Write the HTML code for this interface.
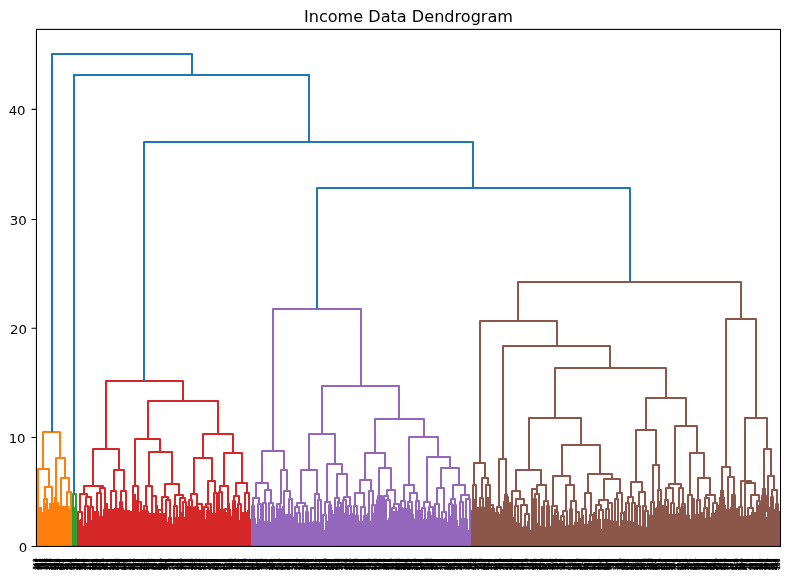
<!DOCTYPE html>
<html lang="en"><head><meta charset="utf-8"><title>Income Data Dendrogram</title>
<style>html,body{margin:0;padding:0;background:#fff}body{width:792px;height:578px;overflow:hidden}svg{display:block}text{font-family:"DejaVu Sans","Liberation Sans",sans-serif;fill:#000}</style></head><body>
<svg width="792" height="578" viewBox="0 0 792 578">
<rect width="792" height="578" fill="#fff"/>
<path d="M37 507H42V546.5H37ZM42 512H43V508H45V546.5H42ZM45 509H49V546.5H45ZM49 503H53V507H54V546.5H49ZM54 511H55V502H59V546.5H54ZM59 506H64V546.5H59ZM64 506H69V546.5H64ZM69 509H72V546.5H69ZM36 520H38V546.5H36ZM54 497h2v6h1v7h1v8h1v9H51v-9h1v-8h1v-7h1zM45 503h2v6h1v7h1v8h1v9H42v-9h1v-8h1v-7h1z" fill="#ff7f0e"/>
<path d="M72 507H75V546.5H72ZM75 507H77V546.5H75Z" fill="#2ca02c"/>
<path d="M77 520H80V546.5H77ZM80 519H83V526H84V546.5H80ZM84 520H86V523H87V546.5H84ZM87 519H89V546.5H87ZM89 520H92V546.5H89ZM92 517H94V546.5H92ZM94 511H99V516H100V546.5H94ZM100 508H102V516H103V546.5H100ZM103 509H108V546.5H103ZM108 509H114V546.5H108ZM114 508H119V546.5H114ZM119 508H121V546.5H119ZM121 508H124V546.5H121ZM124 510H130V546.5H124ZM130 511H135V521H136V546.5H130ZM136 512H140V546.5H136ZM140 512H142V546.5H140ZM142 510H146V546.5H142ZM146 511H149V546.5H146ZM149 513H155V546.5H149ZM155 512H157V546.5H155ZM157 513H159V546.5H157ZM159 513H165V546.5H159ZM165 515H167V522H168V546.5H165ZM168 517H172V546.5H168ZM172 524H173V517H175V546.5H172ZM175 517H179V546.5H175ZM179 516H181V546.5H179ZM181 512H184V517H185V546.5H181ZM185 507H187V546.5H185ZM187 506H191V546.5H187ZM191 507H194V546.5H191ZM194 510H196V546.5H194ZM196 517H197V510H201V546.5H196ZM201 509H203V546.5H201ZM203 510H205V519H206V546.5H203ZM206 510H210V546.5H206ZM210 513H212V546.5H210ZM212 513H216V546.5H212ZM216 514H218V546.5H216ZM218 512H220V546.5H218ZM220 509H224V546.5H220ZM224 512H227V546.5H224ZM227 517H228V512H231V546.5H227ZM231 518H232V508H234V546.5H231ZM234 508H237V546.5H234ZM237 510H239V546.5H237ZM239 520H240V512H242V546.5H239ZM242 512H247V546.5H242ZM247 510H250V519H251V546.5H247ZM134 494h2v6h1v7h1v8h1v9H131v-9h1v-8h1v-7h1zM196 502h2v6h1v7h1v8h1v9H193v-9h1v-8h1v-7h1zM106 503h2v6h1v7h1v8h1v9H103v-9h1v-8h1v-7h1zM156 505h2v6h1v7h1v8h1v9H153v-9h1v-8h1v-7h1zM228 503h2v6h1v7h1v8h1v9H225v-9h1v-8h1v-7h1z" fill="#d62728"/>
<path d="M251 518H253V546.5H251ZM253 518H256V546.5H253ZM256 524H257V519H260V546.5H256ZM260 518H262V546.5H260ZM262 519H264V546.5H262ZM264 521H268V546.5H264ZM268 522H271V546.5H268ZM271 520H273V546.5H271ZM273 518H276V546.5H273ZM276 517H278V546.5H276ZM278 519H280V546.5H278ZM280 518H283V546.5H280ZM283 514H287V546.5H283ZM287 514H291V546.5H287ZM291 517H294V546.5H291ZM294 520H296V546.5H294ZM296 523H299V546.5H296ZM299 516H301V546.5H299ZM301 523H305V546.5H301ZM305 521H307V546.5H305ZM307 522H310V546.5H307ZM310 522H313V546.5H310ZM313 521H317V546.5H313ZM317 522H320V546.5H317ZM320 519H322V546.5H320ZM322 520H324V530H325V546.5H322ZM325 521H328V546.5H325ZM328 521H330V546.5H328ZM330 510H333V546.5H330ZM333 514H337V546.5H333ZM337 512H340V546.5H337ZM340 513H342V546.5H340ZM342 513H345V546.5H342ZM345 508H347V546.5H345ZM347 515H350V546.5H347ZM350 513H353V546.5H350ZM353 514H355V546.5H353ZM355 515H359V521H360V546.5H355ZM360 516H362V521H363V546.5H360ZM363 515H367V546.5H363ZM367 513H370V521H371V546.5H367ZM371 513H374V546.5H371ZM374 513H376V546.5H374ZM376 513H378V546.5H376ZM378 513H381V546.5H378ZM381 512H383V546.5H381ZM383 513H385V546.5H383ZM385 511H387V520H388V546.5H385ZM388 518H389V510H391V546.5H388ZM391 511H394V546.5H391ZM394 511H398V546.5H394ZM398 509H400V546.5H398ZM400 507H403V546.5H400ZM403 508H407V546.5H403ZM407 505H410V546.5H407ZM410 509H413V514H414V546.5H410ZM414 519H415V512H417V546.5H414ZM417 514H421V546.5H417ZM421 516H423V546.5H421ZM423 519H427V546.5H423ZM427 516H429V546.5H427ZM429 515H432V546.5H429ZM432 515H434V546.5H432ZM434 517H437V546.5H434ZM437 518H441V546.5H437ZM441 519H444V546.5H441ZM444 518H447V522H448V546.5H444ZM448 516H451V546.5H448ZM451 518H453V546.5H451ZM453 517H455V546.5H453ZM455 518H457V521H458V546.5H455ZM458 526H459V516H461V546.5H458ZM461 518H465V546.5H461ZM465 519H468V546.5H465ZM468 530H469V521H471V546.5H468ZM337 501h2v6h1v7h1v8h1v9H334v-9h1v-8h1v-7h1zM379 497h2v6h1v7h1v8h1v9H376v-9h1v-8h1v-7h1zM418 504h2v6h1v7h1v8h1v9H415v-9h1v-8h1v-7h1zM454 507h2v6h1v7h1v8h1v9H451v-9h1v-8h1v-7h1zM282 506h2v6h1v7h1v8h1v9H279v-9h1v-8h1v-7h1z" fill="#9467bd"/>
<path d="M471 510H475V546.5H471ZM475 507H479V546.5H475ZM479 507H482V546.5H479ZM482 507H484V546.5H482ZM484 507H488V546.5H484ZM488 512H489V508H492V546.5H488ZM492 508H495V546.5H492ZM495 512H499V546.5H495ZM499 514H503V546.5H499ZM503 516H507V546.5H503ZM507 513H509V546.5H507ZM509 512H511V546.5H509ZM511 517H514V546.5H511ZM514 522H517V546.5H514ZM517 523H520V546.5H517ZM520 527H523V546.5H520ZM523 526H527V546.5H523ZM527 521H530V530H531V546.5H527ZM531 520H533V546.5H531ZM533 520H535V546.5H533ZM535 523H538V546.5H535ZM538 526H541V546.5H538ZM541 525H543V546.5H541ZM543 527H546V546.5H543ZM546 526H548V546.5H546ZM548 526H551V546.5H548ZM551 526H553V546.5H551ZM553 522H557V546.5H553ZM557 520H560V546.5H557ZM560 521H563V546.5H560ZM563 526H566V546.5H563ZM566 525H569V546.5H566ZM569 526H571V546.5H569ZM571 525H574V546.5H571ZM574 522H578V546.5H574ZM578 518H581V546.5H578ZM581 515H584V546.5H581ZM584 524H588V546.5H584ZM588 521H592V546.5H588ZM592 521H595V546.5H592ZM595 519H597V546.5H595ZM597 519H601V546.5H597ZM601 529H602V520H604V546.5H601ZM604 519H608V546.5H604ZM608 520H611V546.5H608ZM611 521H613V546.5H611ZM613 521H617V546.5H613ZM617 526H620V546.5H617ZM620 520H623V546.5H620ZM623 526H625V546.5H623ZM625 523H627V546.5H625ZM627 521H631V546.5H627ZM631 522H634V546.5H631ZM634 523H636V546.5H634ZM636 525H639V546.5H636ZM639 526H642V546.5H639ZM642 526H644V546.5H642ZM644 527H647V546.5H644ZM647 528H649V546.5H647ZM649 515H653V546.5H649ZM653 508H656V546.5H653ZM656 507H660V546.5H656ZM660 505H664V546.5H660ZM664 506H667V546.5H664ZM667 514H670V546.5H667ZM670 506H672V546.5H670ZM672 514H676V546.5H672ZM676 513H679V546.5H676ZM679 513H681V546.5H679ZM681 513H684V546.5H681ZM684 515H686V546.5H684ZM686 515H690V546.5H686ZM690 519H691V515H693V546.5H690ZM693 517H695V546.5H693ZM695 514H699V546.5H695ZM699 512H703V546.5H699ZM703 512H705V546.5H703ZM705 518H706V513H708V546.5H705ZM708 517H711V546.5H708ZM711 513H715V546.5H711ZM715 510H719V546.5H715ZM719 509H725V546.5H719ZM725 509H730V546.5H725ZM730 507H734V546.5H730ZM734 508H738V546.5H734ZM738 510H740V516H741V546.5H738ZM741 513H743V546.5H741ZM743 516H747V546.5H743ZM747 515H751V546.5H747ZM751 512H756V546.5H751ZM756 507H758V546.5H756ZM758 505H762V546.5H758ZM762 507H766V546.5H762ZM766 517H767V507H770V546.5H766ZM770 507H772V546.5H770ZM772 509H775V546.5H772ZM775 509H777V546.5H775ZM777 511H780V546.5H777ZM474 499h2v6h1v7h1v8h1v9H471v-9h1v-8h1v-7h1zM487 497h2v6h1v7h1v8h1v9H484v-9h1v-8h1v-7h1zM505 488h2v6h1v7h1v8h1v9H502v-9h1v-8h1v-7h1zM554 509h2v6h1v7h1v8h1v9H551v-9h1v-8h1v-7h1zM658 501h2v6h1v7h1v8h1v9H655v-9h1v-8h1v-7h1zM721 484h2v6h1v7h1v8h1v9H718v-9h1v-8h1v-7h1zM732 495h2v6h1v7h1v8h1v9H729v-9h1v-8h1v-7h1zM763 482h2v6h1v7h1v8h1v9H760v-9h1v-8h1v-7h1zM771 496h2v6h1v7h1v8h1v9H768v-9h1v-8h1v-7h1zM593 512h2v6h1v7h1v8h1v9H590v-9h1v-8h1v-7h1zM624 511h2v6h1v7h1v8h1v9H621v-9h1v-8h1v-7h1zM682 506h2v6h1v7h1v8h1v9H679v-9h1v-8h1v-7h1z" fill="#8c564b"/>
<path d="M43 469V432H60V458M38 507V469H49V487M45 499V487H52V503M56 502V458H65V478M61 506V478H69V492M67 506V492H71V509M38 507V507H39V507M44 508V499H47V509M45 499V499H46V499M51 503V503H52V503M66 506V506H67V506M70 509V509H71V509" fill="none" stroke="#ff7f0e" stroke-width="2" stroke-linejoin="round" stroke-linecap="butt"/>
<path d="M73 515V494H76V519" fill="none" stroke="#2ca02c" stroke-width="2" stroke-linejoin="round" stroke-linecap="butt"/>
<path d="M106 449V381H183V401M93 486V449H119V470M84 494V486H103V488M80 512V494H87V497M100 493V488H105V509M114 491V470H124V491M111 509V491H116V508M121 502V491H126V510M148 439V401H218V434M135 486V439H160V452M133 511V486H138V502M149 486V452H172V484M146 506V486H152V496M165 497V484H179V495M162 510V497H168V500M175 506V495H183V498M203 458V434H233V453M194 494V458H212V481M191 500V494H197V504M208 504V481H215V493M224 486V453H242V483M220 492V486H228V509M236 496V483H247V493M234 501V496H239V504M245 512V493H249V510M78 520V512H82V519M85 520V506H88V519M90 520V507H93V517M86 506V497H91V507M87 497V497H88V497M97 511V493H101V508M99 493V493H100V493M120 508V502H122V508M126 510V510H127V510M138 512V502H141V512M138 502V502H140V502M144 510V506H147V511M152 513V496H156V512M152 496V496H154V496M158 513V510H162V513M160 510V510H162V510M166 515V500H170V517M174 517V506H177V517M183 512V502H186V507M180 516V498H185V502M189 506V500H192V507M190 500V500H191V500M195 510V507H198V510M197 507V504H202V509M197 504V504H200V504M204 510V507H208V510M206 507V504H211V513M214 513V493H217V514M219 512V492H222V509M220 492V492H221V492M225 512V509H229V512M227 509V509H228V509M233 508V501H235V508M238 510V504H241V512M239 504V504H240V504M244 512V512H245V512" fill="none" stroke="#d62728" stroke-width="2" stroke-linejoin="round" stroke-linecap="butt"/>
<path d="M273 451V309H361V386M262 483V451H284V470M256 498V483H268V490M253 506V498H259V504M265 503V490H271V503M281 504V470H287V491M284 514V491H290V499M322 434V386H399V419M309 470V434H335V464M301 503V470H317V494M297 507V503H305V506M315 508V494H319V500M327 502V464H342V474M325 515V502H330V505M337 498V474H347V497M335 514V498H339V503M344 500V497H350V506M375 453V419H424V437M365 480V453H385V468M360 493V480H371V491M355 506V493H364V507M369 513V491H373V505M379 496V468H391V490M387 496V490H395V504M409 485V437H438V457M404 501V485H414V493M410 502V493H417V501M427 502V457H450V468M424 508V502H430V507M441 488V468H459V485M437 504V488H444V512M453 499V485H465V495M451 504V499H455V505M461 502V495H469V499M252 518V506H254V518M258 519V504H261V518M259 504V504H260V504M263 519V503H266V521M264 503V503H265V503M272 520V507H274V518M269 522V503H273V507M279 519V509H281V518M277 517V504H280V509M278 504V504H281V504M284 514V514H285V514M289 514V499H292V517M290 499V499H291V499M297 523V513H300V516M295 520V507H299V513M306 521V512H308V522M303 523V506H307V512M311 522V508H315V521M313 508V508H315V508M318 522V500H321V519M323 520V515H326V521M324 515V515H325V515M329 521V505H331V510M338 512V503H341V513M343 513V500H346V508M348 515V506H351V513M354 514V506H357V515M361 516V507H365V515M363 507V507H364V507M372 513V505H375V513M373 505V505H374V505M377 513V500H379V513M378 500V496H382V512M379 496V496H380V496M386 511V500H390V510M384 513V496H388V500M386 496V496H387V496M392 511V508H396V511M394 508V504H399V509M395 504V504H397V504M401 507V501H405V508M403 501V501H404V501M408 505V502H412V509M416 512V501H419V514M417 501V501H418V501M422 516V508H425V519M428 516V512H430V515M429 512V507H433V515M430 507V507H431V507M435 517V504H439V518M442 519V512H446V518M449 516V504H452V518M454 517V505H456V518M460 516V502H463V518M466 519V499H470V521M468 499V499H469V499" fill="none" stroke="#9467bd" stroke-width="2" stroke-linejoin="round" stroke-linecap="butt"/>
<path d="M518 321V282H741V319M480 463V321H557V346M474 485V463H485V478M473 510V485H476V507M482 498V478H488V485M486 507V485H490V505M503 459V346H610V368M499 507V459H506V497M555 418V368H666V398M529 470V418H581V445M516 491V470H541V485M512 503V491H520V499M516 506V499H524V505M537 489V485H546V501M544 507V501H548V506M562 476V445H600V474M553 506V476H570V485M566 511V485H574V501M571 509V501H576V512M588 493V474H612V479M585 509V493H591V515M604 500V479H620V493M599 505V500H608V503M617 499V493H622V513M646 430V398H686V426M636 482V430H656V465M631 497V482H642V492M628 503V497H633V503M639 506V492H645V506M653 502V465H659V490M658 507V490H661V505M675 484V426H697V453M669 488V484H681V488M666 500V488H673V503M679 508V488H683V504M690 495V453H704V478M688 515V495H692V499M698 500V478H710V495M697 514V500H700V512M706 498V495H715V503M726 467V319H756V418M722 509V467H730V477M728 509V477H734V495M732 507V495H735V508M745 481V418H767V449M741 507V481H751V483M745 516V483H755V495M751 508V495H759V501M748 515V508H753V512M764 507V449H771V476M768 507V476H774V490M772 497V490H777V504M476 507V507H477V507M480 507V498H483V507M490 508V505H493V508M490 505V505H492V505M497 512V507H501V514M505 516V497H508V513M510 512V503H512V517M511 503V503H512V503M515 522V506H518V523M525 526V514H529V521M521 527V505H527V514M534 520V499H536V523M535 499V494H539V526M532 520V489H537V494M534 489V489H537V489M542 525V507H544V527M543 507V507H544V507M547 526V506H549V526M555 522V512H558V520M552 526V506H557V512M553 506V506H554V506M561 521V516H564V526M563 516V511H567V525M565 511V511H566V511M570 526V509H572V525M576 522V512H579V518M576 512V512H577V512M582 515V509H586V524M584 509V509H585V509M590 521V515H593V521M591 515V515H592V515M599 519V510H603V520M596 519V505H601V510M606 519V509H609V520M608 509V503H612V521M608 503V503H610V503M615 521V499H618V526M616 499V499H617V499M621 520V513H624V526M622 513V513H623V513M626 523V503H629V521M632 522V503H635V523M633 503V503H634V503M637 525V506H640V526M645 527V511H648V528M643 526V506H646V511M644 506V506H645V506M651 515V502H654V508M661 505V505H662V505M665 506V500H668V514M666 500V500H667V500M671 506V503H674V514M672 503V503H673V503M677 513V508H680V513M678 508V508H679V508M682 513V504H685V515M683 504V504H684V504M692 515V499H694V517M692 499V499H693V499M700 512V512H701V512M704 512V508H707V513M705 508V498H709V517M706 498V498H707V498M713 513V503H717V510M727 509V509H728V509M735 508V508H736V508M739 510V507H742V513M748 515V515H749V515M757 507V501H760V505M771 507V497H773V509M776 509V504H778V511" fill="none" stroke="#8c564b" stroke-width="2" stroke-linejoin="round" stroke-linecap="butt"/>
<path d="M52 432V54H192V75M74 494V75H309V142M144 381V142H473V188M317 309V188H630V282" fill="none" stroke="#1f77b4" stroke-width="2" stroke-linejoin="round" stroke-linecap="butt"/>
<rect x="36.45" y="29.40" width="744.05" height="517.05" fill="none" stroke="#000" stroke-width="1.07"/>
<path d="M36.45 546.45h-4.9M36.45 437.45h-4.9M36.45 328.30h-4.9M36.45 219.45h-4.9M36.45 109.40h-4.9" stroke="#000" stroke-width="1.07" fill="none"/>
<text transform="translate(27.2 552.00) scale(1 0.92)" font-size="13.33" text-anchor="end">0</text>
<text transform="translate(25.6 443.00) scale(1 0.92)" font-size="13.33" text-anchor="end">10</text>
<text transform="translate(27.0 333.85) scale(1 0.92)" font-size="13.33" text-anchor="end">20</text>
<text transform="translate(26.7 225.00) scale(1 0.92)" font-size="13.33" text-anchor="end">30</text>
<text transform="translate(25.6 114.95) scale(1 0.92)" font-size="13.33" text-anchor="end">40</text>
<text x="408.5" y="22.2" font-size="16.1" text-anchor="middle">Income Data Dendrogram</text>
<g font-size="5.5" stroke="#000" stroke-width="0.35"><text transform="translate(37.25 569.4) rotate(-90)" x="0 3.1 7.4">343</text><text transform="translate(38.25 569.4) rotate(-90)" x="0 3.1 7.4">116</text><text transform="translate(39.25 569.7) rotate(-90)" x="0 3.1 7.4">397</text><text transform="translate(40.25 569.4) rotate(-90)" x="0 3.1 7.4">697</text><text transform="translate(41.25 569.7) rotate(-90)" x="0 3.3 7.4">312</text><text transform="translate(42.25 569.4) rotate(-90)" x="0 2.9 7.4">379</text><text transform="translate(43.25 569.7) rotate(-90)" x="0 2.9 7.4">730</text><text transform="translate(44.25 569.4) rotate(-90)" x="0 3.3 7.4">293</text><text transform="translate(45.25 569.7) rotate(-90)" x="0 3.5 7.4">162</text><text transform="translate(46.25 569.4) rotate(-90)" x="0 3.5 7.4">286</text><text transform="translate(47.25 569.4) rotate(-90)" x="0 3.3 7.4">152</text><text transform="translate(48.25 569.4) rotate(-90)" x="0 3.1 7.4">573</text><text transform="translate(49.25 569.4) rotate(-90)" x="0 3.3 7.4">678</text><text transform="translate(50.25 569.9) rotate(-90)" x="0 3.5 7.4">302</text><text transform="translate(51.25 569.4) rotate(-90)" x="3.3 7.4">28</text><text transform="translate(52.25 569.4) rotate(-90)" x="0 2.9 7.4">536</text><text transform="translate(53.25 569.7) rotate(-90)" x="0 3.5 7.4">398</text><text transform="translate(54.25 569.7) rotate(-90)" x="0 3.1 7.4">611</text><text transform="translate(55.25 569.9) rotate(-90)" x="0 3.1 7.4">715</text><text transform="translate(56.25 569.7) rotate(-90)" x="0 3.5 7.4">693</text><text transform="translate(57.25 569.9) rotate(-90)" x="0 2.9 7.4">461</text><text transform="translate(58.25 569.4) rotate(-90)" x="0 3.5 7.4">281</text><text transform="translate(59.25 569.4) rotate(-90)" x="0 3.5 7.4">138</text><text transform="translate(60.25 569.7) rotate(-90)" x="0 3.3 7.4">586</text><text transform="translate(61.25 569.7) rotate(-90)" x="0 3.5 7.4">277</text><text transform="translate(62.25 569.9) rotate(-90)" x="0 3.3 7.4">469</text><text transform="translate(63.25 569.9) rotate(-90)" x="0 3.3 7.4">403</text><text transform="translate(64.25 569.7) rotate(-90)" x="0 2.9 7.4">659</text><text transform="translate(65.25 569.7) rotate(-90)" x="0 3.1 7.4">640</text><text transform="translate(66.25 569.9) rotate(-90)" x="0 3.1 7.4">719</text><text transform="translate(67.25 569.7) rotate(-90)" x="0 2.9 7.4">110</text><text transform="translate(68.25 569.7) rotate(-90)" x="0 2.9 7.4">295</text><text transform="translate(69.25 569.7) rotate(-90)" x="0 2.9 7.4">497</text><text transform="translate(70.25 569.7) rotate(-90)" x="0 3.5 7.4">242</text><text transform="translate(71.25 569.7) rotate(-90)" x="0 2.9 7.4">380</text><text transform="translate(72.25 569.9) rotate(-90)" x="3.1 7.4">78</text><text transform="translate(73.25 569.9) rotate(-90)" x="0 3.5 7.4">440</text><text transform="translate(74.25 569.4) rotate(-90)" x="0 2.9 7.4">204</text><text transform="translate(75.25 569.7) rotate(-90)" x="0 2.9 7.4">516</text><text transform="translate(76.25 569.4) rotate(-90)" x="3.3 7.4">91</text><text transform="translate(77.25 569.7) rotate(-90)" x="0 2.9 7.4">251</text><text transform="translate(78.25 569.4) rotate(-90)" x="0 2.9 7.4">210</text><text transform="translate(79.25 569.7) rotate(-90)" x="0 3.5 7.4">424</text><text transform="translate(80.25 569.7) rotate(-90)" x="0 2.9 7.4">533</text><text transform="translate(81.25 569.7) rotate(-90)" x="0 2.9 7.4">475</text><text transform="translate(82.25 569.7) rotate(-90)" x="0 3.3 7.4">648</text><text transform="translate(83.25 569.4) rotate(-90)" x="0 2.9 7.4">377</text><text transform="translate(84.25 569.4) rotate(-90)" x="0 3.3 7.4">314</text><text transform="translate(85.25 569.7) rotate(-90)" x="0 3.5 7.4">236</text><text transform="translate(86.25 569.4) rotate(-90)" x="0 3.5 7.4">305</text><text transform="translate(87.25 569.7) rotate(-90)" x="0 3.1 7.4">489</text><text transform="translate(88.25 569.7) rotate(-90)" x="0 3.5 7.4">370</text><text transform="translate(89.25 569.7) rotate(-90)" x="0 3.3 7.4">179</text><text transform="translate(90.25 569.7) rotate(-90)" x="2.9 7.4">51</text><text transform="translate(91.25 569.7) rotate(-90)" x="0 3.5 7.4">127</text><text transform="translate(92.25 569.7) rotate(-90)" x="0 3.5 7.4">442</text><text transform="translate(93.25 569.9) rotate(-90)" x="0 3.3 7.4">223</text><text transform="translate(94.25 569.9) rotate(-90)" x="0 3.3 7.4">344</text><text transform="translate(95.25 569.7) rotate(-90)" x="0 3.5 7.4">464</text><text transform="translate(96.25 569.7) rotate(-90)" x="0 2.9 7.4">284</text><text transform="translate(97.25 569.7) rotate(-90)" x="0 3.3 7.4">650</text><text transform="translate(98.25 569.9) rotate(-90)" x="0 3.1 7.4">334</text><text transform="translate(99.25 569.4) rotate(-90)" x="0 3.5 7.4">269</text><text transform="translate(100.25 569.7) rotate(-90)" x="0 3.3 7.4">135</text><text transform="translate(101.25 569.7) rotate(-90)" x="0 3.1 7.4">642</text><text transform="translate(102.25 569.9) rotate(-90)" x="0 3.3 7.4">610</text><text transform="translate(103.25 569.7) rotate(-90)" x="0 3.3 7.4">136</text><text transform="translate(104.25 569.7) rotate(-90)" x="0 3.1 7.4">225</text><text transform="translate(105.25 569.4) rotate(-90)" x="0 2.9 7.4">390</text><text transform="translate(106.25 569.4) rotate(-90)" x="0 3.1 7.4">677</text><text transform="translate(107.25 569.9) rotate(-90)" x="0 3.3 7.4">463</text><text transform="translate(108.25 569.9) rotate(-90)" x="0 2.9 7.4">541</text><text transform="translate(109.25 569.7) rotate(-90)" x="0 3.5 7.4">393</text><text transform="translate(110.25 569.7) rotate(-90)" x="0 2.9 7.4">275</text><text transform="translate(111.26 569.9) rotate(-90)" x="0 3.1 7.4">113</text><text transform="translate(112.26 569.7) rotate(-90)" x="0 3.3 7.4">457</text><text transform="translate(113.26 569.7) rotate(-90)" x="0 3.1 7.4">157</text><text transform="translate(114.26 569.4) rotate(-90)" x="0 3.3 7.4">297</text><text transform="translate(115.26 569.7) rotate(-90)" x="0 3.5 7.4">680</text><text transform="translate(116.26 569.9) rotate(-90)" x="0 3.1 7.4">563</text><text transform="translate(117.26 569.4) rotate(-90)" x="0 2.9 7.4">705</text><text transform="translate(118.26 569.4) rotate(-90)" x="0 3.5 7.4">298</text><text transform="translate(119.26 569.9) rotate(-90)" x="0 3.5 7.4">688</text><text transform="translate(120.26 569.9) rotate(-90)" x="3.1 7.4">88</text><text transform="translate(121.26 569.4) rotate(-90)" x="0 3.3 7.4">268</text><text transform="translate(122.26 569.9) rotate(-90)" x="0 3.5 7.4">169</text><text transform="translate(123.26 569.7) rotate(-90)" x="0 3.5 7.4">174</text><text transform="translate(124.26 569.7) rotate(-90)" x="3.3 7.4">64</text><text transform="translate(125.26 569.9) rotate(-90)" x="0 3.3 7.4">634</text><text transform="translate(126.26 569.7) rotate(-90)" x="0 3.5 7.4">448</text><text transform="translate(127.26 569.9) rotate(-90)" x="0 2.9 7.4">400</text><text transform="translate(128.26 569.9) rotate(-90)" x="3.5 7.4">18</text><text transform="translate(129.26 569.7) rotate(-90)" x="0 3.3 7.4">175</text><text transform="translate(130.26 569.7) rotate(-90)" x="0 3.3 7.4">336</text><text transform="translate(131.26 569.9) rotate(-90)" x="0 3.5 7.4">118</text><text transform="translate(132.26 569.4) rotate(-90)" x="0 3.1 7.4">676</text><text transform="translate(133.26 569.7) rotate(-90)" x="0 3.3 7.4">555</text><text transform="translate(134.26 569.7) rotate(-90)" x="0 3.1 7.4">247</text><text transform="translate(135.26 569.9) rotate(-90)" x="0 3.1 7.4">644</text><text transform="translate(136.26 569.4) rotate(-90)" x="0 2.9 7.4">500</text><text transform="translate(137.26 569.7) rotate(-90)" x="0 2.9 7.4">234</text><text transform="translate(138.26 569.7) rotate(-90)" x="0 3.5 7.4">233</text><text transform="translate(139.26 569.9) rotate(-90)" x="3.3 7.4">33</text><text transform="translate(140.26 569.9) rotate(-90)" x="3.5 7.4">55</text><text transform="translate(141.26 569.7) rotate(-90)" x="0 3.5 7.4">260</text><text transform="translate(142.26 569.7) rotate(-90)" x="0 2.9 7.4">540</text><text transform="translate(143.26 569.4) rotate(-90)" x="0 3.5 7.4">282</text><text transform="translate(144.26 569.7) rotate(-90)" x="0 2.9 7.4">359</text><text transform="translate(145.26 569.9) rotate(-90)" x="0 2.9 7.4">739</text><text transform="translate(146.26 569.9) rotate(-90)" x="0 3.3 7.4">434</text><text transform="translate(147.26 569.7) rotate(-90)" x="0 3.1 7.4">106</text><text transform="translate(148.26 569.9) rotate(-90)" x="0 3.5 7.4">427</text><text transform="translate(149.26 569.9) rotate(-90)" x="0 3.5 7.4">599</text><text transform="translate(150.26 569.4) rotate(-90)" x="0 3.3 7.4">606</text><text transform="translate(151.26 569.7) rotate(-90)" x="0 3.1 7.4">718</text><text transform="translate(152.26 569.7) rotate(-90)" x="0 3.3 7.4">245</text><text transform="translate(153.26 569.7) rotate(-90)" x="0 2.9 7.4">160</text><text transform="translate(154.26 569.4) rotate(-90)" x="0 3.1 7.4">549</text><text transform="translate(155.26 569.7) rotate(-90)" x="0 3.3 7.4">471</text><text transform="translate(156.26 569.7) rotate(-90)" x="0 3.5 7.4">386</text><text transform="translate(157.26 569.7) rotate(-90)" x="0 3.3 7.4">629</text><text transform="translate(158.26 569.9) rotate(-90)" x="0 3.1 7.4">347</text><text transform="translate(159.26 569.4) rotate(-90)" x="0 3.1 7.4">172</text><text transform="translate(160.26 569.7) rotate(-90)" x="0 2.9 7.4">263</text><text transform="translate(161.26 569.9) rotate(-90)" x="0 2.9 7.4">651</text><text transform="translate(162.26 569.4) rotate(-90)" x="0 2.9 7.4">166</text><text transform="translate(163.26 569.4) rotate(-90)" x="0 3.3 7.4">460</text><text transform="translate(164.26 569.9) rotate(-90)" x="0 3.3 7.4">723</text><text transform="translate(165.26 569.4) rotate(-90)" x="0 2.9 7.4">205</text><text transform="translate(166.26 569.7) rotate(-90)" x="0 2.9 7.4">456</text><text transform="translate(167.26 569.9) rotate(-90)" x="0 3.1 7.4">384</text><text transform="translate(168.26 569.7) rotate(-90)" x="0 3.3 7.4">508</text><text transform="translate(169.26 569.9) rotate(-90)" x="3.1 7.4">69</text><text transform="translate(170.26 569.7) rotate(-90)" x="0 2.9 7.4">507</text><text transform="translate(171.26 569.4) rotate(-90)" x="3.1 7.4">39</text><text transform="translate(172.26 569.4) rotate(-90)" x="2.9 7.4">63</text><text transform="translate(173.26 569.7) rotate(-90)" x="0 2.9 7.4">317</text><text transform="translate(174.26 569.9) rotate(-90)" x="0 3.5 7.4">107</text><text transform="translate(175.26 569.4) rotate(-90)" x="3.5 7.4">68</text><text transform="translate(176.26 569.7) rotate(-90)" x="2.9 7.4">38</text><text transform="translate(177.26 569.7) rotate(-90)" x="0 3.1 7.4">279</text><text transform="translate(178.26 569.7) rotate(-90)" x="0 3.3 7.4">325</text><text transform="translate(179.26 569.4) rotate(-90)" x="0 3.1 7.4">544</text><text transform="translate(180.26 569.4) rotate(-90)" x="0 3.3 7.4">155</text><text transform="translate(181.26 569.7) rotate(-90)" x="0 2.9 7.4">221</text><text transform="translate(182.26 569.9) rotate(-90)" x="0 3.1 7.4">313</text><text transform="translate(183.26 569.4) rotate(-90)" x="0 3.5 7.4">200</text><text transform="translate(184.26 569.7) rotate(-90)" x="0 2.9 7.4">395</text><text transform="translate(185.26 569.4) rotate(-90)" x="0 3.5 7.4">387</text><text transform="translate(186.26 569.4) rotate(-90)" x="3.5 7.4">93</text><text transform="translate(187.26 569.7) rotate(-90)" x="0 3.1 7.4">451</text><text transform="translate(188.26 569.4) rotate(-90)" x="0 3.1 7.4">122</text><text transform="translate(189.26 569.7) rotate(-90)" x="0 3.1 7.4">227</text><text transform="translate(190.26 569.4) rotate(-90)" x="0 3.3 7.4">182</text><text transform="translate(191.26 569.7) rotate(-90)" x="3.5 7.4">86</text><text transform="translate(192.26 569.7) rotate(-90)" x="0 3.5 7.4">115</text><text transform="translate(193.26 569.4) rotate(-90)" x="0 3.5 7.4">226</text><text transform="translate(194.26 569.9) rotate(-90)" x="0 3.1 7.4">407</text><text transform="translate(195.26 569.9) rotate(-90)" x="0 3.1 7.4">389</text><text transform="translate(196.26 569.9) rotate(-90)" x="3.3 7.4">24</text><text transform="translate(197.26 569.4) rotate(-90)" x="0 3.5 7.4">626</text><text transform="translate(198.26 569.4) rotate(-90)" x="3.1 7.4">35</text><text transform="translate(199.26 569.7) rotate(-90)" x="0 3.1 7.4">331</text><text transform="translate(200.26 569.9) rotate(-90)" x="0 3.3 7.4">733</text><text transform="translate(201.26 569.4) rotate(-90)" x="0 3.1 7.4">556</text><text transform="translate(202.26 569.9) rotate(-90)" x="0 3.3 7.4">641</text><text transform="translate(203.26 569.4) rotate(-90)" x="0 3.3 7.4">262</text><text transform="translate(204.26 569.9) rotate(-90)" x="0 3.3 7.4">212</text><text transform="translate(205.26 569.9) rotate(-90)" x="0 3.3 7.4">261</text><text transform="translate(206.26 569.4) rotate(-90)" x="0 2.9 7.4">562</text><text transform="translate(207.26 569.7) rotate(-90)" x="7.4">3</text><text transform="translate(208.26 569.9) rotate(-90)" x="3.1 7.4">36</text><text transform="translate(209.26 569.9) rotate(-90)" x="0 3.1 7.4">736</text><text transform="translate(210.26 569.7) rotate(-90)" x="0 3.3 7.4">186</text><text transform="translate(211.26 569.9) rotate(-90)" x="0 3.1 7.4">455</text><text transform="translate(212.26 569.7) rotate(-90)" x="2.9 7.4">97</text><text transform="translate(213.26 569.7) rotate(-90)" x="0 2.9 7.4">545</text><text transform="translate(214.26 569.7) rotate(-90)" x="0 3.1 7.4">319</text><text transform="translate(215.26 569.4) rotate(-90)" x="0 3.1 7.4">435</text><text transform="translate(216.26 569.7) rotate(-90)" x="3.1 7.4">99</text><text transform="translate(217.26 569.9) rotate(-90)" x="0 3.1 7.4">459</text><text transform="translate(218.26 569.7) rotate(-90)" x="0 3.5 7.4">609</text><text transform="translate(219.26 569.7) rotate(-90)" x="3.1 7.4">82</text><text transform="translate(220.26 569.7) rotate(-90)" x="0 3.3 7.4">542</text><text transform="translate(221.26 569.9) rotate(-90)" x="0 3.5 7.4">701</text><text transform="translate(222.26 569.7) rotate(-90)" x="0 3.1 7.4">167</text><text transform="translate(223.26 569.7) rotate(-90)" x="0 3.5 7.4">112</text><text transform="translate(224.26 569.9) rotate(-90)" x="0 3.1 7.4">151</text><text transform="translate(225.26 569.7) rotate(-90)" x="0 3.1 7.4">418</text><text transform="translate(226.26 569.7) rotate(-90)" x="0 3.5 7.4">416</text><text transform="translate(227.26 569.9) rotate(-90)" x="0 3.1 7.4">658</text><text transform="translate(228.26 569.7) rotate(-90)" x="0 3.1 7.4">532</text><text transform="translate(229.26 569.4) rotate(-90)" x="7.4">1</text><text transform="translate(230.26 569.9) rotate(-90)" x="0 3.3 7.4">193</text><text transform="translate(231.26 569.7) rotate(-90)" x="0 2.9 7.4">608</text><text transform="translate(232.26 569.4) rotate(-90)" x="0 3.3 7.4">513</text><text transform="translate(233.26 569.4) rotate(-90)" x="0 3.5 7.4">584</text><text transform="translate(234.26 569.7) rotate(-90)" x="3.1 7.4">14</text><text transform="translate(235.26 569.7) rotate(-90)" x="0 3.3 7.4">123</text><text transform="translate(236.26 569.4) rotate(-90)" x="0 2.9 7.4">724</text><text transform="translate(237.26 569.7) rotate(-90)" x="0 3.3 7.4">165</text><text transform="translate(238.26 569.4) rotate(-90)" x="0 3.1 7.4">189</text><text transform="translate(239.26 569.4) rotate(-90)" x="0 3.3 7.4">352</text><text transform="translate(240.26 569.7) rotate(-90)" x="0 3.1 7.4">131</text><text transform="translate(241.26 569.9) rotate(-90)" x="0 3.1 7.4">201</text><text transform="translate(242.26 569.7) rotate(-90)" x="0 3.3 7.4">443</text><text transform="translate(243.26 569.9) rotate(-90)" x="3.5 7.4">12</text><text transform="translate(244.26 569.7) rotate(-90)" x="0 3.1 7.4">664</text><text transform="translate(245.26 569.4) rotate(-90)" x="0 3.1 7.4">585</text><text transform="translate(246.26 569.7) rotate(-90)" x="0 3.3 7.4">663</text><text transform="translate(247.26 569.4) rotate(-90)" x="3.5 7.4">90</text><text transform="translate(248.26 569.7) rotate(-90)" x="0 3.5 7.4">557</text><text transform="translate(249.26 569.7) rotate(-90)" x="0 3.5 7.4">437</text><text transform="translate(250.26 569.7) rotate(-90)" x="0 2.9 7.4">417</text><text transform="translate(251.26 569.4) rotate(-90)" x="3.3 7.4">56</text><text transform="translate(252.26 569.7) rotate(-90)" x="0 3.3 7.4">582</text><text transform="translate(253.26 569.9) rotate(-90)" x="0 2.9 7.4">525</text><text transform="translate(254.26 569.7) rotate(-90)" x="0 2.9 7.4">246</text><text transform="translate(255.26 569.7) rotate(-90)" x="0 3.5 7.4">698</text><text transform="translate(256.26 569.7) rotate(-90)" x="0 3.3 7.4">519</text><text transform="translate(257.26 569.4) rotate(-90)" x="0 3.5 7.4">114</text><text transform="translate(258.26 569.7) rotate(-90)" x="0 3.3 7.4">253</text><text transform="translate(259.26 569.9) rotate(-90)" x="0 3.1 7.4">100</text><text transform="translate(260.27 569.9) rotate(-90)" x="0 3.3 7.4">612</text><text transform="translate(261.27 569.4) rotate(-90)" x="0 3.3 7.4">625</text><text transform="translate(262.27 569.7) rotate(-90)" x="0 2.9 7.4">327</text><text transform="translate(263.27 569.4) rotate(-90)" x="0 2.9 7.4">315</text><text transform="translate(264.27 569.4) rotate(-90)" x="0 3.1 7.4">569</text><text transform="translate(265.27 569.7) rotate(-90)" x="0 2.9 7.4">144</text><text transform="translate(266.27 569.7) rotate(-90)" x="3.1 7.4">81</text><text transform="translate(267.27 569.9) rotate(-90)" x="2.9 7.4">65</text><text transform="translate(268.27 569.7) rotate(-90)" x="3.5 7.4">23</text><text transform="translate(269.27 569.4) rotate(-90)" x="0 3.3 7.4">357</text><text transform="translate(270.27 569.9) rotate(-90)" x="0 3.3 7.4">392</text><text transform="translate(271.27 569.7) rotate(-90)" x="0 3.5 7.4">101</text><text transform="translate(272.27 569.4) rotate(-90)" x="0 3.5 7.4">492</text><text transform="translate(273.27 569.9) rotate(-90)" x="0 3.1 7.4">153</text><text transform="translate(274.27 569.9) rotate(-90)" x="0 3.1 7.4">490</text><text transform="translate(275.27 569.4) rotate(-90)" x="0 3.1 7.4">531</text><text transform="translate(276.27 569.7) rotate(-90)" x="0 3.3 7.4">703</text><text transform="translate(277.27 569.7) rotate(-90)" x="0 3.1 7.4">232</text><text transform="translate(278.27 569.7) rotate(-90)" x="0 3.3 7.4">627</text><text transform="translate(279.27 569.7) rotate(-90)" x="0 2.9 7.4">433</text><text transform="translate(280.27 569.7) rotate(-90)" x="0 3.3 7.4">117</text><text transform="translate(281.27 569.4) rotate(-90)" x="0 3.5 7.4">180</text><text transform="translate(282.27 569.7) rotate(-90)" x="0 3.1 7.4">222</text><text transform="translate(283.27 569.7) rotate(-90)" x="0 3.1 7.4">574</text><text transform="translate(284.27 569.9) rotate(-90)" x="0 3.5 7.4">607</text><text transform="translate(285.27 569.7) rotate(-90)" x="7.4">8</text><text transform="translate(286.27 569.9) rotate(-90)" x="0 2.9 7.4">713</text><text transform="translate(287.27 569.7) rotate(-90)" x="0 3.1 7.4">685</text><text transform="translate(288.27 569.7) rotate(-90)" x="0 3.3 7.4">339</text><text transform="translate(289.27 569.7) rotate(-90)" x="0 3.1 7.4">465</text><text transform="translate(290.27 569.4) rotate(-90)" x="0 3.3 7.4">692</text><text transform="translate(291.27 569.7) rotate(-90)" x="0 3.5 7.4">483</text><text transform="translate(292.27 569.9) rotate(-90)" x="0 3.1 7.4">727</text><text transform="translate(293.27 569.7) rotate(-90)" x="0 3.5 7.4">173</text><text transform="translate(294.27 569.7) rotate(-90)" x="2.9 7.4">19</text><text transform="translate(295.27 569.7) rotate(-90)" x="0 2.9 7.4">502</text><text transform="translate(296.27 569.7) rotate(-90)" x="3.5 7.4">67</text><text transform="translate(297.27 569.4) rotate(-90)" x="0 2.9 7.4">472</text><text transform="translate(298.27 569.7) rotate(-90)" x="3.3 7.4">49</text><text transform="translate(299.27 569.4) rotate(-90)" x="0 3.1 7.4">614</text><text transform="translate(300.27 569.9) rotate(-90)" x="0 3.3 7.4">272</text><text transform="translate(301.27 569.7) rotate(-90)" x="0 2.9 7.4">133</text><text transform="translate(302.27 569.9) rotate(-90)" x="0 3.3 7.4">109</text><text transform="translate(303.27 569.7) rotate(-90)" x="0 3.5 7.4">326</text><text transform="translate(304.27 569.7) rotate(-90)" x="0 3.3 7.4">104</text><text transform="translate(305.27 569.4) rotate(-90)" x="0 2.9 7.4">668</text><text transform="translate(306.27 569.9) rotate(-90)" x="2.9 7.4">48</text><text transform="translate(307.27 569.4) rotate(-90)" x="0 3.5 7.4">661</text><text transform="translate(308.27 569.7) rotate(-90)" x="0 3.3 7.4">265</text><text transform="translate(309.27 569.9) rotate(-90)" x="0 2.9 7.4">581</text><text transform="translate(310.27 569.9) rotate(-90)" x="0 3.5 7.4">176</text><text transform="translate(311.27 569.7) rotate(-90)" x="0 3.1 7.4">709</text><text transform="translate(312.27 569.7) rotate(-90)" x="0 2.9 7.4">716</text><text transform="translate(313.27 569.7) rotate(-90)" x="0 2.9 7.4">631</text><text transform="translate(314.27 569.7) rotate(-90)" x="0 3.3 7.4">535</text><text transform="translate(315.27 569.7) rotate(-90)" x="0 2.9 7.4">237</text><text transform="translate(316.27 569.4) rotate(-90)" x="0 2.9 7.4">632</text><text transform="translate(317.27 569.7) rotate(-90)" x="3.5 7.4">54</text><text transform="translate(318.27 569.7) rotate(-90)" x="0 3.3 7.4">191</text><text transform="translate(319.27 569.7) rotate(-90)" x="0 3.1 7.4">598</text><text transform="translate(320.27 569.7) rotate(-90)" x="2.9 7.4">22</text><text transform="translate(321.27 569.9) rotate(-90)" x="0 3.3 7.4">684</text><text transform="translate(322.27 569.7) rotate(-90)" x="0 3.1 7.4">712</text><text transform="translate(323.27 569.7) rotate(-90)" x="0 3.3 7.4">264</text><text transform="translate(324.27 569.7) rotate(-90)" x="0 3.3 7.4">206</text><text transform="translate(325.27 569.7) rotate(-90)" x="0 3.3 7.4">183</text><text transform="translate(326.27 569.4) rotate(-90)" x="0 3.1 7.4">288</text><text transform="translate(327.27 569.4) rotate(-90)" x="0 2.9 7.4">710</text><text transform="translate(328.27 569.4) rotate(-90)" x="0 3.5 7.4">148</text><text transform="translate(329.27 569.9) rotate(-90)" x="0 3.1 7.4">623</text><text transform="translate(330.27 569.9) rotate(-90)" x="0 3.5 7.4">527</text><text transform="translate(331.27 569.7) rotate(-90)" x="3.1 7.4">98</text><text transform="translate(332.27 569.7) rotate(-90)" x="0 2.9 7.4">453</text><text transform="translate(333.27 569.7) rotate(-90)" x="0 3.1 7.4">566</text><text transform="translate(334.27 569.9) rotate(-90)" x="0 3.1 7.4">511</text><text transform="translate(335.27 569.4) rotate(-90)" x="0 3.5 7.4">671</text><text transform="translate(336.27 569.9) rotate(-90)" x="0 2.9 7.4">376</text><text transform="translate(337.27 569.7) rotate(-90)" x="0 3.5 7.4">345</text><text transform="translate(338.27 569.7) rotate(-90)" x="0 3.1 7.4">481</text><text transform="translate(339.27 569.4) rotate(-90)" x="0 2.9 7.4">498</text><text transform="translate(340.27 569.7) rotate(-90)" x="0 3.5 7.4">266</text><text transform="translate(341.27 569.4) rotate(-90)" x="0 3.3 7.4">737</text><text transform="translate(342.27 569.9) rotate(-90)" x="0 2.9 7.4">203</text><text transform="translate(343.27 569.4) rotate(-90)" x="0 3.3 7.4">323</text><text transform="translate(344.27 569.4) rotate(-90)" x="3.5 7.4">32</text><text transform="translate(345.27 569.7) rotate(-90)" x="0 3.1 7.4">181</text><text transform="translate(346.27 569.7) rotate(-90)" x="0 3.5 7.4">274</text><text transform="translate(347.27 569.9) rotate(-90)" x="2.9 7.4">44</text><text transform="translate(348.27 569.7) rotate(-90)" x="0 3.3 7.4">488</text><text transform="translate(349.27 569.4) rotate(-90)" x="0 3.5 7.4">550</text><text transform="translate(350.27 569.9) rotate(-90)" x="0 3.3 7.4">523</text><text transform="translate(351.27 569.7) rotate(-90)" x="0 3.5 7.4">447</text><text transform="translate(352.27 569.4) rotate(-90)" x="0 3.5 7.4">340</text><text transform="translate(353.27 569.7) rotate(-90)" x="0 2.9 7.4">411</text><text transform="translate(354.27 569.9) rotate(-90)" x="0 3.3 7.4">105</text><text transform="translate(355.27 569.9) rotate(-90)" x="0 3.3 7.4">238</text><text transform="translate(356.27 569.7) rotate(-90)" x="0 3.1 7.4">619</text><text transform="translate(357.27 569.4) rotate(-90)" x="0 3.3 7.4">580</text><text transform="translate(358.27 569.7) rotate(-90)" x="0 3.1 7.4">362</text><text transform="translate(359.27 569.4) rotate(-90)" x="0 3.5 7.4">358</text><text transform="translate(360.27 569.7) rotate(-90)" x="0 3.1 7.4">564</text><text transform="translate(361.27 569.7) rotate(-90)" x="0 3.5 7.4">102</text><text transform="translate(362.27 569.9) rotate(-90)" x="0 3.1 7.4">195</text><text transform="translate(363.27 569.7) rotate(-90)" x="0 3.5 7.4">248</text><text transform="translate(364.27 569.7) rotate(-90)" x="0 2.9 7.4">283</text><text transform="translate(365.27 569.7) rotate(-90)" x="0 3.1 7.4">276</text><text transform="translate(366.27 569.7) rotate(-90)" x="0 2.9 7.4">419</text><text transform="translate(367.27 569.4) rotate(-90)" x="0 3.3 7.4">673</text><text transform="translate(368.27 569.7) rotate(-90)" x="0 3.1 7.4">177</text><text transform="translate(369.27 569.7) rotate(-90)" x="0 3.5 7.4">589</text><text transform="translate(370.27 569.7) rotate(-90)" x="0 3.5 7.4">458</text><text transform="translate(371.27 569.4) rotate(-90)" x="0 2.9 7.4">140</text><text transform="translate(372.27 569.4) rotate(-90)" x="3.5 7.4">75</text><text transform="translate(373.27 569.7) rotate(-90)" x="0 3.5 7.4">292</text><text transform="translate(374.27 569.4) rotate(-90)" x="2.9 7.4">72</text><text transform="translate(375.27 569.9) rotate(-90)" x="0 3.5 7.4">572</text><text transform="translate(376.27 569.7) rotate(-90)" x="0 3.1 7.4">579</text><text transform="translate(377.27 569.4) rotate(-90)" x="0 3.5 7.4">639</text><text transform="translate(378.27 569.7) rotate(-90)" x="0 3.1 7.4">615</text><text transform="translate(379.27 569.9) rotate(-90)" x="0 2.9 7.4">216</text><text transform="translate(380.27 569.4) rotate(-90)" x="0 3.1 7.4">137</text><text transform="translate(381.27 569.4) rotate(-90)" x="0 3.3 7.4">134</text><text transform="translate(382.27 569.7) rotate(-90)" x="0 2.9 7.4">593</text><text transform="translate(383.27 569.7) rotate(-90)" x="7.4">0</text><text transform="translate(384.27 569.7) rotate(-90)" x="0 2.9 7.4">145</text><text transform="translate(385.27 569.4) rotate(-90)" x="0 3.5 7.4">565</text><text transform="translate(386.27 569.4) rotate(-90)" x="0 3.1 7.4">613</text><text transform="translate(387.27 569.7) rotate(-90)" x="0 3.3 7.4">308</text><text transform="translate(388.27 569.7) rotate(-90)" x="0 3.3 7.4">630</text><text transform="translate(389.27 569.7) rotate(-90)" x="0 2.9 7.4">551</text><text transform="translate(390.27 569.7) rotate(-90)" x="0 2.9 7.4">466</text><text transform="translate(391.27 569.7) rotate(-90)" x="0 3.3 7.4">192</text><text transform="translate(392.27 569.4) rotate(-90)" x="0 3.5 7.4">126</text><text transform="translate(393.27 569.4) rotate(-90)" x="0 3.3 7.4">219</text><text transform="translate(394.27 569.7) rotate(-90)" x="0 3.3 7.4">553</text><text transform="translate(395.27 569.4) rotate(-90)" x="0 2.9 7.4">501</text><text transform="translate(396.27 569.7) rotate(-90)" x="0 3.1 7.4">721</text><text transform="translate(397.27 569.7) rotate(-90)" x="0 3.3 7.4">452</text><text transform="translate(398.27 569.4) rotate(-90)" x="0 3.5 7.4">405</text><text transform="translate(399.27 569.4) rotate(-90)" x="0 3.5 7.4">653</text><text transform="translate(400.27 569.9) rotate(-90)" x="0 2.9 7.4">655</text><text transform="translate(401.27 569.4) rotate(-90)" x="0 2.9 7.4">426</text><text transform="translate(402.27 569.7) rotate(-90)" x="0 3.3 7.4">707</text><text transform="translate(403.27 569.7) rotate(-90)" x="0 3.1 7.4">404</text><text transform="translate(404.27 569.7) rotate(-90)" x="0 3.5 7.4">318</text><text transform="translate(405.27 569.7) rotate(-90)" x="0 3.3 7.4">406</text><text transform="translate(406.27 569.4) rotate(-90)" x="0 3.5 7.4">647</text><text transform="translate(407.27 569.7) rotate(-90)" x="0 2.9 7.4">686</text><text transform="translate(408.27 569.9) rotate(-90)" x="0 3.1 7.4">170</text><text transform="translate(409.28 569.4) rotate(-90)" x="0 3.5 7.4">482</text><text transform="translate(410.28 569.4) rotate(-90)" x="0 2.9 7.4">139</text><text transform="translate(411.28 569.9) rotate(-90)" x="0 3.1 7.4">687</text><text transform="translate(412.28 569.7) rotate(-90)" x="0 3.5 7.4">708</text><text transform="translate(413.28 569.9) rotate(-90)" x="0 3.5 7.4">244</text><text transform="translate(414.28 569.4) rotate(-90)" x="0 3.1 7.4">722</text><text transform="translate(415.28 569.7) rotate(-90)" x="0 3.3 7.4">322</text><text transform="translate(416.28 569.7) rotate(-90)" x="3.1 7.4">83</text><text transform="translate(417.28 569.4) rotate(-90)" x="0 3.1 7.4">330</text><text transform="translate(418.28 569.7) rotate(-90)" x="0 3.1 7.4">514</text><text transform="translate(419.28 569.9) rotate(-90)" x="0 3.3 7.4">603</text><text transform="translate(420.28 569.9) rotate(-90)" x="0 3.3 7.4">591</text><text transform="translate(421.28 569.7) rotate(-90)" x="3.5 7.4">85</text><text transform="translate(422.28 569.4) rotate(-90)" x="0 3.3 7.4">567</text><text transform="translate(423.28 569.9) rotate(-90)" x="0 3.3 7.4">240</text><text transform="translate(424.28 569.7) rotate(-90)" x="0 3.3 7.4">699</text><text transform="translate(425.28 569.7) rotate(-90)" x="0 2.9 7.4">372</text><text transform="translate(426.28 569.4) rotate(-90)" x="0 3.5 7.4">474</text><text transform="translate(427.28 569.7) rotate(-90)" x="0 3.1 7.4">618</text><text transform="translate(428.28 569.9) rotate(-90)" x="0 3.3 7.4">161</text><text transform="translate(429.28 569.4) rotate(-90)" x="3.3 7.4">30</text><text transform="translate(430.28 569.7) rotate(-90)" x="0 3.3 7.4">311</text><text transform="translate(431.28 569.4) rotate(-90)" x="0 3.1 7.4">249</text><text transform="translate(432.28 569.7) rotate(-90)" x="0 2.9 7.4">520</text><text transform="translate(433.28 569.4) rotate(-90)" x="0 3.5 7.4">530</text><text transform="translate(434.28 569.7) rotate(-90)" x="0 3.3 7.4">616</text><text transform="translate(435.28 569.7) rotate(-90)" x="0 3.1 7.4">399</text><text transform="translate(436.28 569.7) rotate(-90)" x="0 2.9 7.4">159</text><text transform="translate(437.28 569.7) rotate(-90)" x="0 3.3 7.4">199</text><text transform="translate(438.28 569.7) rotate(-90)" x="0 3.1 7.4">546</text><text transform="translate(439.28 569.7) rotate(-90)" x="0 3.5 7.4">316</text><text transform="translate(440.28 569.7) rotate(-90)" x="0 2.9 7.4">731</text><text transform="translate(441.28 569.9) rotate(-90)" x="0 3.3 7.4">333</text><text transform="translate(442.28 569.7) rotate(-90)" x="0 3.3 7.4">450</text><text transform="translate(443.28 569.7) rotate(-90)" x="3.1 7.4">31</text><text transform="translate(444.28 569.7) rotate(-90)" x="7.4">5</text><text transform="translate(445.28 569.4) rotate(-90)" x="0 3.1 7.4">735</text><text transform="translate(446.28 569.9) rotate(-90)" x="0 3.5 7.4">367</text><text transform="translate(447.28 569.9) rotate(-90)" x="3.5 7.4">26</text><text transform="translate(448.28 569.7) rotate(-90)" x="0 3.3 7.4">537</text><text transform="translate(449.28 569.7) rotate(-90)" x="0 2.9 7.4">559</text><text transform="translate(450.28 569.7) rotate(-90)" x="0 3.3 7.4">674</text><text transform="translate(451.28 569.7) rotate(-90)" x="0 3.3 7.4">255</text><text transform="translate(452.28 569.7) rotate(-90)" x="0 2.9 7.4">499</text><text transform="translate(453.28 569.7) rotate(-90)" x="0 2.9 7.4">285</text><text transform="translate(454.28 569.7) rotate(-90)" x="0 3.3 7.4">321</text><text transform="translate(455.28 569.7) rotate(-90)" x="0 3.5 7.4">521</text><text transform="translate(456.28 569.4) rotate(-90)" x="3.5 7.4">43</text><text transform="translate(457.28 569.7) rotate(-90)" x="0 3.5 7.4">388</text><text transform="translate(458.28 569.7) rotate(-90)" x="0 3.1 7.4">373</text><text transform="translate(459.28 569.4) rotate(-90)" x="3.3 7.4">74</text><text transform="translate(460.28 569.7) rotate(-90)" x="0 3.1 7.4">355</text><text transform="translate(461.28 569.4) rotate(-90)" x="0 3.1 7.4">365</text><text transform="translate(462.28 569.4) rotate(-90)" x="0 3.1 7.4">382</text><text transform="translate(463.28 569.9) rotate(-90)" x="0 3.5 7.4">477</text><text transform="translate(464.28 569.7) rotate(-90)" x="0 3.1 7.4">187</text><text transform="translate(465.28 569.7) rotate(-90)" x="2.9 7.4">25</text><text transform="translate(466.28 569.4) rotate(-90)" x="3.1 7.4">95</text><text transform="translate(467.28 569.4) rotate(-90)" x="0 3.1 7.4">381</text><text transform="translate(468.28 569.4) rotate(-90)" x="0 2.9 7.4">375</text><text transform="translate(469.28 569.7) rotate(-90)" x="0 3.3 7.4">230</text><text transform="translate(470.28 569.7) rotate(-90)" x="0 2.9 7.4">124</text><text transform="translate(471.28 569.4) rotate(-90)" x="0 3.3 7.4">291</text><text transform="translate(472.28 569.4) rotate(-90)" x="0 3.3 7.4">368</text><text transform="translate(473.28 569.7) rotate(-90)" x="0 3.1 7.4">141</text><text transform="translate(474.28 569.4) rotate(-90)" x="7.4">9</text><text transform="translate(475.28 569.9) rotate(-90)" x="0 3.5 7.4">454</text><text transform="translate(476.28 569.7) rotate(-90)" x="3.3 7.4">66</text><text transform="translate(477.28 569.9) rotate(-90)" x="0 2.9 7.4">444</text><text transform="translate(478.28 569.4) rotate(-90)" x="0 2.9 7.4">529</text><text transform="translate(479.28 569.9) rotate(-90)" x="3.3 7.4">45</text><text transform="translate(480.28 569.7) rotate(-90)" x="0 3.5 7.4">439</text><text transform="translate(481.28 569.4) rotate(-90)" x="0 3.5 7.4">714</text><text transform="translate(482.28 569.7) rotate(-90)" x="0 2.9 7.4">342</text><text transform="translate(483.28 569.4) rotate(-90)" x="0 3.3 7.4">558</text><text transform="translate(484.28 569.7) rotate(-90)" x="7.4">4</text><text transform="translate(485.28 569.4) rotate(-90)" x="0 3.1 7.4">667</text><text transform="translate(486.28 569.7) rotate(-90)" x="0 2.9 7.4">604</text><text transform="translate(487.28 569.7) rotate(-90)" x="0 3.1 7.4">597</text><text transform="translate(488.28 569.7) rotate(-90)" x="0 2.9 7.4">320</text><text transform="translate(489.28 569.9) rotate(-90)" x="0 3.3 7.4">583</text><text transform="translate(490.28 569.7) rotate(-90)" x="0 3.3 7.4">108</text><text transform="translate(491.28 569.7) rotate(-90)" x="0 3.3 7.4">241</text><text transform="translate(492.28 569.9) rotate(-90)" x="0 3.3 7.4">329</text><text transform="translate(493.28 569.7) rotate(-90)" x="2.9 7.4">42</text><text transform="translate(494.28 569.7) rotate(-90)" x="3.5 7.4">52</text><text transform="translate(495.28 569.7) rotate(-90)" x="0 3.3 7.4">717</text><text transform="translate(496.28 569.7) rotate(-90)" x="0 3.1 7.4">211</text><text transform="translate(497.28 569.9) rotate(-90)" x="0 2.9 7.4">689</text><text transform="translate(498.28 569.7) rotate(-90)" x="0 2.9 7.4">243</text><text transform="translate(499.28 569.7) rotate(-90)" x="3.1 7.4">79</text><text transform="translate(500.28 569.4) rotate(-90)" x="0 3.5 7.4">337</text><text transform="translate(501.28 569.7) rotate(-90)" x="0 2.9 7.4">742</text><text transform="translate(502.28 569.4) rotate(-90)" x="0 2.9 7.4">620</text><text transform="translate(503.28 569.7) rotate(-90)" x="0 3.1 7.4">198</text><text transform="translate(504.28 569.7) rotate(-90)" x="0 3.3 7.4">348</text><text transform="translate(505.28 569.7) rotate(-90)" x="7.4">7</text><text transform="translate(506.28 569.4) rotate(-90)" x="0 3.1 7.4">571</text><text transform="translate(507.28 569.7) rotate(-90)" x="0 3.3 7.4">228</text><text transform="translate(508.28 569.9) rotate(-90)" x="0 3.5 7.4">207</text><text transform="translate(509.28 569.7) rotate(-90)" x="0 3.1 7.4">470</text><text transform="translate(510.28 569.9) rotate(-90)" x="0 3.5 7.4">356</text><text transform="translate(511.28 569.7) rotate(-90)" x="0 3.1 7.4">294</text><text transform="translate(512.28 569.4) rotate(-90)" x="0 2.9 7.4">494</text><text transform="translate(513.28 569.4) rotate(-90)" x="0 2.9 7.4">414</text><text transform="translate(514.28 569.7) rotate(-90)" x="0 3.5 7.4">396</text><text transform="translate(515.28 569.7) rotate(-90)" x="2.9 7.4">60</text><text transform="translate(516.28 569.9) rotate(-90)" x="0 3.5 7.4">422</text><text transform="translate(517.28 569.7) rotate(-90)" x="3.5 7.4">20</text><text transform="translate(518.28 569.7) rotate(-90)" x="0 2.9 7.4">267</text><text transform="translate(519.28 569.7) rotate(-90)" x="0 2.9 7.4">560</text><text transform="translate(520.28 569.7) rotate(-90)" x="0 3.5 7.4">254</text><text transform="translate(521.28 569.7) rotate(-90)" x="3.1 7.4">27</text><text transform="translate(522.28 569.7) rotate(-90)" x="0 3.1 7.4">729</text><text transform="translate(523.28 569.7) rotate(-90)" x="0 3.5 7.4">601</text><text transform="translate(524.28 569.9) rotate(-90)" x="0 3.3 7.4">740</text><text transform="translate(525.28 569.7) rotate(-90)" x="0 3.1 7.4">635</text><text transform="translate(526.28 569.7) rotate(-90)" x="0 3.5 7.4">289</text><text transform="translate(527.28 569.7) rotate(-90)" x="0 3.1 7.4">220</text><text transform="translate(528.28 569.4) rotate(-90)" x="3.3 7.4">10</text><text transform="translate(529.28 569.4) rotate(-90)" x="0 3.3 7.4">163</text><text transform="translate(530.28 569.7) rotate(-90)" x="3.5 7.4">17</text><text transform="translate(531.28 569.7) rotate(-90)" x="0 3.1 7.4">621</text><text transform="translate(532.28 569.7) rotate(-90)" x="3.5 7.4">94</text><text transform="translate(533.28 569.7) rotate(-90)" x="0 2.9 7.4">154</text><text transform="translate(534.28 569.4) rotate(-90)" x="0 3.3 7.4">441</text><text transform="translate(535.28 569.7) rotate(-90)" x="0 3.5 7.4">694</text><text transform="translate(536.28 569.7) rotate(-90)" x="0 3.5 7.4">595</text><text transform="translate(537.28 569.4) rotate(-90)" x="0 3.3 7.4">666</text><text transform="translate(538.28 569.7) rotate(-90)" x="0 2.9 7.4">158</text><text transform="translate(539.28 569.7) rotate(-90)" x="0 2.9 7.4">402</text><text transform="translate(540.28 569.7) rotate(-90)" x="3.3 7.4">71</text><text transform="translate(541.28 569.4) rotate(-90)" x="0 3.3 7.4">421</text><text transform="translate(542.28 569.9) rotate(-90)" x="0 3.1 7.4">446</text><text transform="translate(543.28 569.4) rotate(-90)" x="0 3.5 7.4">726</text><text transform="translate(544.28 569.7) rotate(-90)" x="0 3.5 7.4">528</text><text transform="translate(545.28 569.7) rotate(-90)" x="0 3.5 7.4">335</text><text transform="translate(546.28 569.7) rotate(-90)" x="0 2.9 7.4">587</text><text transform="translate(547.28 569.4) rotate(-90)" x="0 3.1 7.4">517</text><text transform="translate(548.28 569.7) rotate(-90)" x="0 2.9 7.4">548</text><text transform="translate(549.28 569.9) rotate(-90)" x="0 3.1 7.4">431</text><text transform="translate(550.28 569.4) rotate(-90)" x="2.9 7.4">37</text><text transform="translate(551.28 569.7) rotate(-90)" x="0 2.9 7.4">185</text><text transform="translate(552.28 569.4) rotate(-90)" x="0 2.9 7.4">636</text><text transform="translate(553.28 569.9) rotate(-90)" x="0 2.9 7.4">178</text><text transform="translate(554.28 569.9) rotate(-90)" x="0 3.1 7.4">468</text><text transform="translate(555.28 569.7) rotate(-90)" x="2.9 7.4">40</text><text transform="translate(556.28 569.7) rotate(-90)" x="0 3.1 7.4">696</text><text transform="translate(557.28 569.7) rotate(-90)" x="2.9 7.4">84</text><text transform="translate(558.29 569.4) rotate(-90)" x="0 3.5 7.4">150</text><text transform="translate(559.29 569.7) rotate(-90)" x="0 3.3 7.4">672</text><text transform="translate(560.29 569.4) rotate(-90)" x="0 3.1 7.4">512</text><text transform="translate(561.29 569.7) rotate(-90)" x="3.3 7.4">61</text><text transform="translate(562.29 569.7) rotate(-90)" x="0 2.9 7.4">486</text><text transform="translate(563.29 569.4) rotate(-90)" x="0 3.3 7.4">194</text><text transform="translate(564.29 569.7) rotate(-90)" x="2.9 7.4">47</text><text transform="translate(565.29 569.9) rotate(-90)" x="0 2.9 7.4">706</text><text transform="translate(566.29 569.7) rotate(-90)" x="0 3.3 7.4">704</text><text transform="translate(567.29 569.7) rotate(-90)" x="0 2.9 7.4">307</text><text transform="translate(568.29 569.9) rotate(-90)" x="0 2.9 7.4">732</text><text transform="translate(569.29 569.7) rotate(-90)" x="3.3 7.4">50</text><text transform="translate(570.29 569.7) rotate(-90)" x="0 3.5 7.4">415</text><text transform="translate(571.29 569.9) rotate(-90)" x="0 3.5 7.4">408</text><text transform="translate(572.29 569.9) rotate(-90)" x="3.3 7.4">41</text><text transform="translate(573.29 569.7) rotate(-90)" x="3.5 7.4">89</text><text transform="translate(574.29 569.9) rotate(-90)" x="0 3.5 7.4">130</text><text transform="translate(575.29 569.7) rotate(-90)" x="0 3.5 7.4">306</text><text transform="translate(576.29 569.7) rotate(-90)" x="0 2.9 7.4">324</text><text transform="translate(577.29 569.9) rotate(-90)" x="0 3.3 7.4">196</text><text transform="translate(578.29 569.7) rotate(-90)" x="0 3.1 7.4">577</text><text transform="translate(579.29 569.4) rotate(-90)" x="0 2.9 7.4">120</text><text transform="translate(580.29 569.4) rotate(-90)" x="0 2.9 7.4">605</text><text transform="translate(581.29 569.7) rotate(-90)" x="0 3.5 7.4">208</text><text transform="translate(582.29 569.7) rotate(-90)" x="0 3.5 7.4">645</text><text transform="translate(583.29 569.4) rotate(-90)" x="0 3.5 7.4">518</text><text transform="translate(584.29 569.9) rotate(-90)" x="0 3.5 7.4">278</text><text transform="translate(585.29 569.9) rotate(-90)" x="0 3.3 7.4">515</text><text transform="translate(586.29 569.9) rotate(-90)" x="0 3.1 7.4">341</text><text transform="translate(587.29 569.4) rotate(-90)" x="0 3.3 7.4">413</text><text transform="translate(588.29 569.7) rotate(-90)" x="0 3.5 7.4">505</text><text transform="translate(589.29 569.4) rotate(-90)" x="0 3.3 7.4">675</text><text transform="translate(590.29 569.7) rotate(-90)" x="0 3.1 7.4">299</text><text transform="translate(591.29 569.9) rotate(-90)" x="0 3.3 7.4">296</text><text transform="translate(592.29 569.9) rotate(-90)" x="3.3 7.4">53</text><text transform="translate(593.29 569.7) rotate(-90)" x="0 3.1 7.4">257</text><text transform="translate(594.29 569.7) rotate(-90)" x="0 2.9 7.4">432</text><text transform="translate(595.29 569.7) rotate(-90)" x="0 3.1 7.4">350</text><text transform="translate(596.29 569.7) rotate(-90)" x="0 3.3 7.4">445</text><text transform="translate(597.29 569.7) rotate(-90)" x="0 3.1 7.4">290</text><text transform="translate(598.29 569.7) rotate(-90)" x="0 3.5 7.4">728</text><text transform="translate(599.29 569.7) rotate(-90)" x="0 2.9 7.4">538</text><text transform="translate(600.29 569.7) rotate(-90)" x="0 3.5 7.4">485</text><text transform="translate(601.29 569.4) rotate(-90)" x="0 3.5 7.4">349</text><text transform="translate(602.29 569.7) rotate(-90)" x="0 3.5 7.4">374</text><text transform="translate(603.29 569.9) rotate(-90)" x="0 3.3 7.4">590</text><text transform="translate(604.29 569.7) rotate(-90)" x="0 2.9 7.4">346</text><text transform="translate(605.29 569.7) rotate(-90)" x="0 3.3 7.4">129</text><text transform="translate(606.29 569.4) rotate(-90)" x="0 3.5 7.4">425</text><text transform="translate(607.29 569.9) rotate(-90)" x="0 3.3 7.4">617</text><text transform="translate(608.29 569.9) rotate(-90)" x="3.3 7.4">34</text><text transform="translate(609.29 569.9) rotate(-90)" x="0 2.9 7.4">600</text><text transform="translate(610.29 569.7) rotate(-90)" x="0 3.5 7.4">660</text><text transform="translate(611.29 569.4) rotate(-90)" x="0 3.1 7.4">602</text><text transform="translate(612.29 569.7) rotate(-90)" x="0 3.1 7.4">522</text><text transform="translate(613.29 569.7) rotate(-90)" x="3.5 7.4">96</text><text transform="translate(614.29 569.7) rotate(-90)" x="0 3.3 7.4">338</text><text transform="translate(615.29 569.7) rotate(-90)" x="3.5 7.4">46</text><text transform="translate(616.29 569.7) rotate(-90)" x="2.9 7.4">21</text><text transform="translate(617.29 569.7) rotate(-90)" x="2.9 7.4">29</text><text transform="translate(618.29 569.7) rotate(-90)" x="0 2.9 7.4">369</text><text transform="translate(619.29 569.7) rotate(-90)" x="0 3.3 7.4">184</text><text transform="translate(620.29 569.7) rotate(-90)" x="3.3 7.4">77</text><text transform="translate(621.29 569.7) rotate(-90)" x="0 3.1 7.4">711</text><text transform="translate(622.29 569.4) rotate(-90)" x="0 3.5 7.4">670</text><text transform="translate(623.29 569.4) rotate(-90)" x="0 3.5 7.4">383</text><text transform="translate(624.29 569.7) rotate(-90)" x="0 3.1 7.4">476</text><text transform="translate(625.29 569.7) rotate(-90)" x="0 3.5 7.4">303</text><text transform="translate(626.29 569.4) rotate(-90)" x="0 3.3 7.4">509</text><text transform="translate(627.29 569.9) rotate(-90)" x="0 3.5 7.4">576</text><text transform="translate(628.29 569.4) rotate(-90)" x="0 3.3 7.4">681</text><text transform="translate(629.29 569.9) rotate(-90)" x="0 3.3 7.4">662</text><text transform="translate(630.29 569.7) rotate(-90)" x="0 3.5 7.4">164</text><text transform="translate(631.29 569.7) rotate(-90)" x="7.4">6</text><text transform="translate(632.29 569.7) rotate(-90)" x="0 3.5 7.4">552</text><text transform="translate(633.29 569.7) rotate(-90)" x="0 3.1 7.4">695</text><text transform="translate(634.29 569.7) rotate(-90)" x="0 2.9 7.4">510</text><text transform="translate(635.29 569.4) rotate(-90)" x="0 3.3 7.4">252</text><text transform="translate(636.29 569.9) rotate(-90)" x="0 2.9 7.4">503</text><text transform="translate(637.29 569.9) rotate(-90)" x="0 3.5 7.4">147</text><text transform="translate(638.29 569.9) rotate(-90)" x="0 3.5 7.4">478</text><text transform="translate(639.29 569.4) rotate(-90)" x="0 2.9 7.4">495</text><text transform="translate(640.29 569.9) rotate(-90)" x="3.5 7.4">59</text><text transform="translate(641.29 569.9) rotate(-90)" x="0 3.5 7.4">570</text><text transform="translate(642.29 569.7) rotate(-90)" x="0 3.5 7.4">504</text><text transform="translate(643.29 569.9) rotate(-90)" x="0 2.9 7.4">484</text><text transform="translate(644.29 569.9) rotate(-90)" x="0 3.5 7.4">142</text><text transform="translate(645.29 569.4) rotate(-90)" x="0 3.1 7.4">633</text><text transform="translate(646.29 569.7) rotate(-90)" x="0 3.1 7.4">429</text><text transform="translate(647.29 569.4) rotate(-90)" x="0 3.5 7.4">270</text><text transform="translate(648.29 569.7) rotate(-90)" x="0 3.3 7.4">121</text><text transform="translate(649.29 569.9) rotate(-90)" x="0 3.5 7.4">568</text><text transform="translate(650.29 569.4) rotate(-90)" x="0 2.9 7.4">119</text><text transform="translate(651.29 569.4) rotate(-90)" x="0 3.1 7.4">449</text><text transform="translate(652.29 569.4) rotate(-90)" x="2.9 7.4">80</text><text transform="translate(653.29 569.4) rotate(-90)" x="0 3.5 7.4">646</text><text transform="translate(654.29 569.9) rotate(-90)" x="0 3.1 7.4">218</text><text transform="translate(655.29 569.7) rotate(-90)" x="0 2.9 7.4">506</text><text transform="translate(656.29 569.9) rotate(-90)" x="0 3.3 7.4">202</text><text transform="translate(657.29 569.9) rotate(-90)" x="0 2.9 7.4">304</text><text transform="translate(658.29 569.9) rotate(-90)" x="0 3.1 7.4">679</text><text transform="translate(659.29 569.7) rotate(-90)" x="2.9 7.4">92</text><text transform="translate(660.29 569.7) rotate(-90)" x="0 3.3 7.4">637</text><text transform="translate(661.29 569.4) rotate(-90)" x="0 3.1 7.4">624</text><text transform="translate(662.29 569.7) rotate(-90)" x="0 3.1 7.4">171</text><text transform="translate(663.29 569.4) rotate(-90)" x="0 3.3 7.4">547</text><text transform="translate(664.29 569.9) rotate(-90)" x="0 3.3 7.4">412</text><text transform="translate(665.29 569.7) rotate(-90)" x="0 3.3 7.4">213</text><text transform="translate(666.29 569.9) rotate(-90)" x="0 3.5 7.4">683</text><text transform="translate(667.29 569.7) rotate(-90)" x="0 2.9 7.4">354</text><text transform="translate(668.29 569.7) rotate(-90)" x="0 3.3 7.4">462</text><text transform="translate(669.29 569.9) rotate(-90)" x="0 3.5 7.4">669</text><text transform="translate(670.29 569.7) rotate(-90)" x="0 3.3 7.4">239</text><text transform="translate(671.29 569.7) rotate(-90)" x="0 3.1 7.4">146</text><text transform="translate(672.29 569.7) rotate(-90)" x="0 2.9 7.4">592</text><text transform="translate(673.29 569.9) rotate(-90)" x="0 3.3 7.4">743</text><text transform="translate(674.29 569.7) rotate(-90)" x="0 3.5 7.4">622</text><text transform="translate(675.29 569.7) rotate(-90)" x="0 3.3 7.4">256</text><text transform="translate(676.29 569.9) rotate(-90)" x="0 3.1 7.4">300</text><text transform="translate(677.29 569.7) rotate(-90)" x="2.9 7.4">73</text><text transform="translate(678.29 569.4) rotate(-90)" x="0 2.9 7.4">214</text><text transform="translate(679.29 569.7) rotate(-90)" x="3.5 7.4">11</text><text transform="translate(680.29 569.7) rotate(-90)" x="2.9 7.4">15</text><text transform="translate(681.29 569.9) rotate(-90)" x="0 3.1 7.4">596</text><text transform="translate(682.29 569.7) rotate(-90)" x="0 3.3 7.4">353</text><text transform="translate(683.29 569.9) rotate(-90)" x="0 3.1 7.4">543</text><text transform="translate(684.29 569.9) rotate(-90)" x="0 3.5 7.4">143</text><text transform="translate(685.29 569.7) rotate(-90)" x="0 3.1 7.4">332</text><text transform="translate(686.29 569.7) rotate(-90)" x="0 2.9 7.4">578</text><text transform="translate(687.29 569.4) rotate(-90)" x="0 3.5 7.4">656</text><text transform="translate(688.29 569.7) rotate(-90)" x="2.9 7.4">58</text><text transform="translate(689.29 569.9) rotate(-90)" x="0 2.9 7.4">394</text><text transform="translate(690.29 569.4) rotate(-90)" x="0 3.1 7.4">702</text><text transform="translate(691.29 569.9) rotate(-90)" x="0 3.1 7.4">156</text><text transform="translate(692.29 569.7) rotate(-90)" x="0 3.1 7.4">371</text><text transform="translate(693.29 569.7) rotate(-90)" x="3.1 7.4">87</text><text transform="translate(694.29 569.7) rotate(-90)" x="0 3.1 7.4">720</text><text transform="translate(695.29 569.9) rotate(-90)" x="0 2.9 7.4">638</text><text transform="translate(696.29 569.7) rotate(-90)" x="0 2.9 7.4">438</text><text transform="translate(697.29 569.4) rotate(-90)" x="0 2.9 7.4">496</text><text transform="translate(698.29 569.7) rotate(-90)" x="0 3.5 7.4">491</text><text transform="translate(699.29 569.9) rotate(-90)" x="0 3.3 7.4">328</text><text transform="translate(700.29 569.7) rotate(-90)" x="0 3.5 7.4">309</text><text transform="translate(701.29 569.7) rotate(-90)" x="0 2.9 7.4">250</text><text transform="translate(702.29 569.7) rotate(-90)" x="0 2.9 7.4">366</text><text transform="translate(703.29 569.7) rotate(-90)" x="0 3.5 7.4">287</text><text transform="translate(704.29 569.7) rotate(-90)" x="7.4">2</text><text transform="translate(705.29 569.7) rotate(-90)" x="0 3.1 7.4">493</text><text transform="translate(706.29 569.7) rotate(-90)" x="0 3.3 7.4">190</text><text transform="translate(707.30 569.7) rotate(-90)" x="0 3.1 7.4">436</text><text transform="translate(708.30 569.9) rotate(-90)" x="0 3.1 7.4">259</text><text transform="translate(709.30 569.7) rotate(-90)" x="0 2.9 7.4">385</text><text transform="translate(710.30 569.7) rotate(-90)" x="0 3.5 7.4">273</text><text transform="translate(711.30 569.7) rotate(-90)" x="0 3.3 7.4">235</text><text transform="translate(712.30 569.7) rotate(-90)" x="0 2.9 7.4">363</text><text transform="translate(713.30 569.7) rotate(-90)" x="0 3.5 7.4">690</text><text transform="translate(714.30 569.9) rotate(-90)" x="0 3.1 7.4">128</text><text transform="translate(715.30 569.9) rotate(-90)" x="0 3.3 7.4">665</text><text transform="translate(716.30 569.4) rotate(-90)" x="0 2.9 7.4">561</text><text transform="translate(717.30 569.4) rotate(-90)" x="0 3.3 7.4">301</text><text transform="translate(718.30 569.4) rotate(-90)" x="0 3.1 7.4">479</text><text transform="translate(719.30 569.9) rotate(-90)" x="0 3.3 7.4">423</text><text transform="translate(720.30 569.4) rotate(-90)" x="0 3.3 7.4">738</text><text transform="translate(721.30 569.4) rotate(-90)" x="0 3.5 7.4">682</text><text transform="translate(722.30 569.9) rotate(-90)" x="0 3.1 7.4">361</text><text transform="translate(723.30 569.7) rotate(-90)" x="0 3.3 7.4">149</text><text transform="translate(724.30 569.7) rotate(-90)" x="0 2.9 7.4">231</text><text transform="translate(725.30 569.9) rotate(-90)" x="0 3.1 7.4">575</text><text transform="translate(726.30 569.7) rotate(-90)" x="0 3.3 7.4">657</text><text transform="translate(727.30 569.4) rotate(-90)" x="0 3.3 7.4">480</text><text transform="translate(728.30 569.4) rotate(-90)" x="0 2.9 7.4">197</text><text transform="translate(729.30 569.7) rotate(-90)" x="0 3.3 7.4">649</text><text transform="translate(730.30 569.7) rotate(-90)" x="3.1 7.4">70</text><text transform="translate(731.30 569.7) rotate(-90)" x="0 2.9 7.4">132</text><text transform="translate(732.30 569.7) rotate(-90)" x="0 3.3 7.4">168</text><text transform="translate(733.30 569.9) rotate(-90)" x="0 3.5 7.4">217</text><text transform="translate(734.30 569.7) rotate(-90)" x="0 3.1 7.4">473</text><text transform="translate(735.30 569.7) rotate(-90)" x="0 3.3 7.4">725</text><text transform="translate(736.30 569.7) rotate(-90)" x="0 2.9 7.4">224</text><text transform="translate(737.30 569.9) rotate(-90)" x="0 2.9 7.4">539</text><text transform="translate(738.30 569.4) rotate(-90)" x="0 2.9 7.4">410</text><text transform="translate(739.30 569.9) rotate(-90)" x="0 3.1 7.4">310</text><text transform="translate(740.30 569.4) rotate(-90)" x="0 3.5 7.4">229</text><text transform="translate(741.30 569.4) rotate(-90)" x="0 2.9 7.4">111</text><text transform="translate(742.30 569.9) rotate(-90)" x="0 2.9 7.4">271</text><text transform="translate(743.30 569.9) rotate(-90)" x="0 3.1 7.4">594</text><text transform="translate(744.30 569.4) rotate(-90)" x="0 3.3 7.4">360</text><text transform="translate(745.30 569.7) rotate(-90)" x="0 3.3 7.4">691</text><text transform="translate(746.30 569.7) rotate(-90)" x="0 3.3 7.4">643</text><text transform="translate(747.30 569.7) rotate(-90)" x="0 2.9 7.4">430</text><text transform="translate(748.30 569.9) rotate(-90)" x="0 2.9 7.4">428</text><text transform="translate(749.30 569.7) rotate(-90)" x="3.3 7.4">76</text><text transform="translate(750.30 569.4) rotate(-90)" x="3.3 7.4">13</text><text transform="translate(751.30 569.7) rotate(-90)" x="2.9 7.4">62</text><text transform="translate(752.30 569.7) rotate(-90)" x="0 2.9 7.4">409</text><text transform="translate(753.30 569.7) rotate(-90)" x="0 3.5 7.4">391</text><text transform="translate(754.30 569.7) rotate(-90)" x="0 2.9 7.4">280</text><text transform="translate(755.30 569.7) rotate(-90)" x="0 3.5 7.4">258</text><text transform="translate(756.30 569.4) rotate(-90)" x="3.1 7.4">57</text><text transform="translate(757.30 569.7) rotate(-90)" x="0 3.3 7.4">652</text><text transform="translate(758.30 569.7) rotate(-90)" x="0 3.1 7.4">364</text><text transform="translate(759.30 569.7) rotate(-90)" x="0 3.5 7.4">628</text><text transform="translate(760.30 569.7) rotate(-90)" x="0 3.1 7.4">125</text><text transform="translate(761.30 569.4) rotate(-90)" x="0 3.1 7.4">526</text><text transform="translate(762.30 569.4) rotate(-90)" x="0 2.9 7.4">401</text><text transform="translate(763.30 569.9) rotate(-90)" x="0 2.9 7.4">188</text><text transform="translate(764.30 569.7) rotate(-90)" x="0 3.1 7.4">700</text><text transform="translate(765.30 569.7) rotate(-90)" x="0 2.9 7.4">215</text><text transform="translate(766.30 569.7) rotate(-90)" x="0 3.1 7.4">741</text><text transform="translate(767.30 569.9) rotate(-90)" x="0 2.9 7.4">420</text><text transform="translate(768.30 569.4) rotate(-90)" x="0 3.5 7.4">351</text><text transform="translate(769.30 569.4) rotate(-90)" x="0 3.3 7.4">534</text><text transform="translate(770.30 569.7) rotate(-90)" x="0 2.9 7.4">378</text><text transform="translate(771.30 569.7) rotate(-90)" x="0 3.1 7.4">654</text><text transform="translate(772.30 569.7) rotate(-90)" x="2.9 7.4">16</text><text transform="translate(773.30 569.7) rotate(-90)" x="0 2.9 7.4">524</text><text transform="translate(774.30 569.4) rotate(-90)" x="0 2.9 7.4">487</text><text transform="translate(775.30 569.7) rotate(-90)" x="0 3.1 7.4">734</text><text transform="translate(776.30 569.7) rotate(-90)" x="0 3.3 7.4">209</text><text transform="translate(777.30 569.9) rotate(-90)" x="0 2.9 7.4">554</text><text transform="translate(778.30 569.4) rotate(-90)" x="0 3.1 7.4">467</text><text transform="translate(779.30 569.9) rotate(-90)" x="0 3.3 7.4">588</text><text transform="translate(780.30 569.4) rotate(-90)" x="0 3.5 7.4">103</text></g>
</svg></body></html>
